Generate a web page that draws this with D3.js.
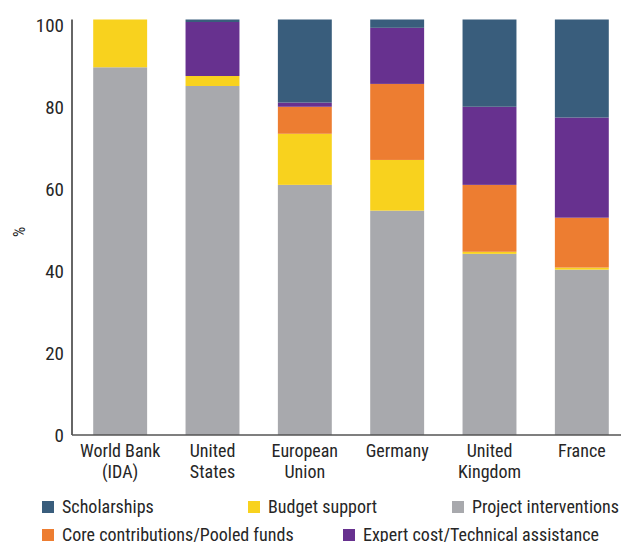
<!DOCTYPE html>
<html>
<head>
<meta charset="utf-8">
<script src="https://cdn.jsdelivr.net/npm/d3@7"></script>
<style>
  html, body { margin: 0; padding: 0; background: #fff; }
  svg { display: block; }
  text { font-family: "Roboto Condensed", "Liberation Sans Narrow", Roboto, sans-serif; fill: #262626; }
</style>
</head>
<body>
<svg id="chart" width="621" height="542"></svg>
<script>
const categories = [['World Bank', '(IDA)'], ['United', 'States'], ['European', 'Union'], ['Germany'], ['United', 'Kingdom'], ['France']];
const seriesNames = ['Project interventions', 'Budget support', 'Core contributions/Pooled funds', 'Expert cost/Technical assistance', 'Scholarships'];
const seriesColors = ['#a8a9ad', '#f8d21e', '#ed7d31', '#67318f', '#395d7c'];

// values per category, in series order (bottom to top)
const project = [88.5, 84.0, 60.2, 54.0, 43.6, 39.8];
const budget = [11.5, 2.4, 12.3, 12.2, 0.5, 0.5];
const core = [0, 0, 6.5, 18.3, 16.1, 12.0];
const expert = [0, 13.0, 1.0, 13.5, 18.8, 24.1];
const scholarships = [0, 0.6, 20.0, 2.0, 21.0, 23.6];
const yTicks = [0, 20, 40, 60, 80, 100];

const rows = categories.map((c, i) => ({
  key: i,
  label: c,
  'Project interventions': project[i],
  'Budget support': budget[i],
  'Core contributions/Pooled funds': core[i],
  'Expert cost/Technical assistance': expert[i],
  'Scholarships': scholarships[i]
}));

const svg = d3.select('#chart');
const font = '"Roboto Condensed", "Liberation Sans Narrow", Roboto, sans-serif';

const x = d3.scaleBand()
  .domain(rows.map((d) => d.key))
  .range([74, 628])
  .paddingInner(0.416)
  .paddingOuter(0.208);

const y = d3.scaleLinear().domain([0, 100]).range([435, 19.5]);
// the source's tick labels sit a touch lower than the bar scale
const yLab = y.copy().range([435, 25]);

const color = d3.scaleOrdinal().domain(seriesNames).range(seriesColors);

const stacked = d3.stack().keys(seriesNames)(rows);

// bars
svg.append('g')
  .selectAll('g')
  .data(stacked)
  .join('g')
  .attr('fill', (s) => color(s.key))
  .selectAll('rect')
  .data((s) => s)
  .join('rect')
  .attr('x', (d) => x(d.data.key))
  .attr('width', x.bandwidth())
  .attr('y', (d) => y(d[1]))
  .attr('height', (d) => y(d[0]) - y(d[1]));

// y axis
const yAxis = svg.append('g')
  .attr('transform', 'translate(72,0)')
  .call(d3.axisLeft(yLab).tickValues(yTicks).tickSize(0).tickPadding(8));
yAxis.select('.domain').remove();
yAxis.selectAll('text').attr('font-size', 19).attr('fill', '#262626').style('font-family', font);
svg.append('line')
  .attr('x1', 72).attr('x2', 72)
  .attr('y1', y(0)).attr('y2', y(100))
  .attr('stroke', '#333').attr('stroke-width', 1.5);

// baseline
svg.append('line')
  .attr('x1', 72).attr('x2', 621)
  .attr('y1', y(0)).attr('y2', y(0))
  .attr('stroke', '#555').attr('stroke-width', 1.5);

// x labels
const xl = svg.append('g')
  .selectAll('text')
  .data(rows)
  .join('text')
  .attr('text-anchor', 'middle')
  .attr('font-size', 18)
  .attr('x', (d) => x(d.key) + x.bandwidth() / 2)
  .attr('y', 457);
xl.selectAll('tspan')
  .data((d) => d.label)
  .join('tspan')
  .attr('x', function () { return this.parentNode.getAttribute('x'); })
  .attr('dy', (d, i) => (i === 0 ? 0 : 21))
  .text((d) => d);

// y title
svg.append('text')
  .attr('transform', 'translate(25,232) rotate(-90)')
  .attr('text-anchor', 'middle')
  .attr('font-size', 16)
  .text('%');

// legend
const legendPos = [
  { name: 'Scholarships', x: 42, y: 507 },
  { name: 'Budget support', x: 248, y: 507 },
  { name: 'Project interventions', x: 452, y: 507 },
  { name: 'Core contributions/Pooled funds', x: 42, y: 535 },
  { name: 'Expert cost/Technical assistance', x: 343, y: 535 }
];
const lg = svg.append('g')
  .selectAll('g')
  .data(legendPos)
  .join('g')
  .attr('transform', (d) => `translate(${d.x},${d.y})`);
lg.append('rect')
  .attr('x', 0).attr('y', -6)
  .attr('width', 12).attr('height', 12)
  .attr('fill', (d) => color(d.name));
lg.append('text')
  .attr('x', 20)
  .attr('dy', '0.35em')
  .attr('font-size', 18)
  .text((d) => d.name);
</script>
</body>
</html>
